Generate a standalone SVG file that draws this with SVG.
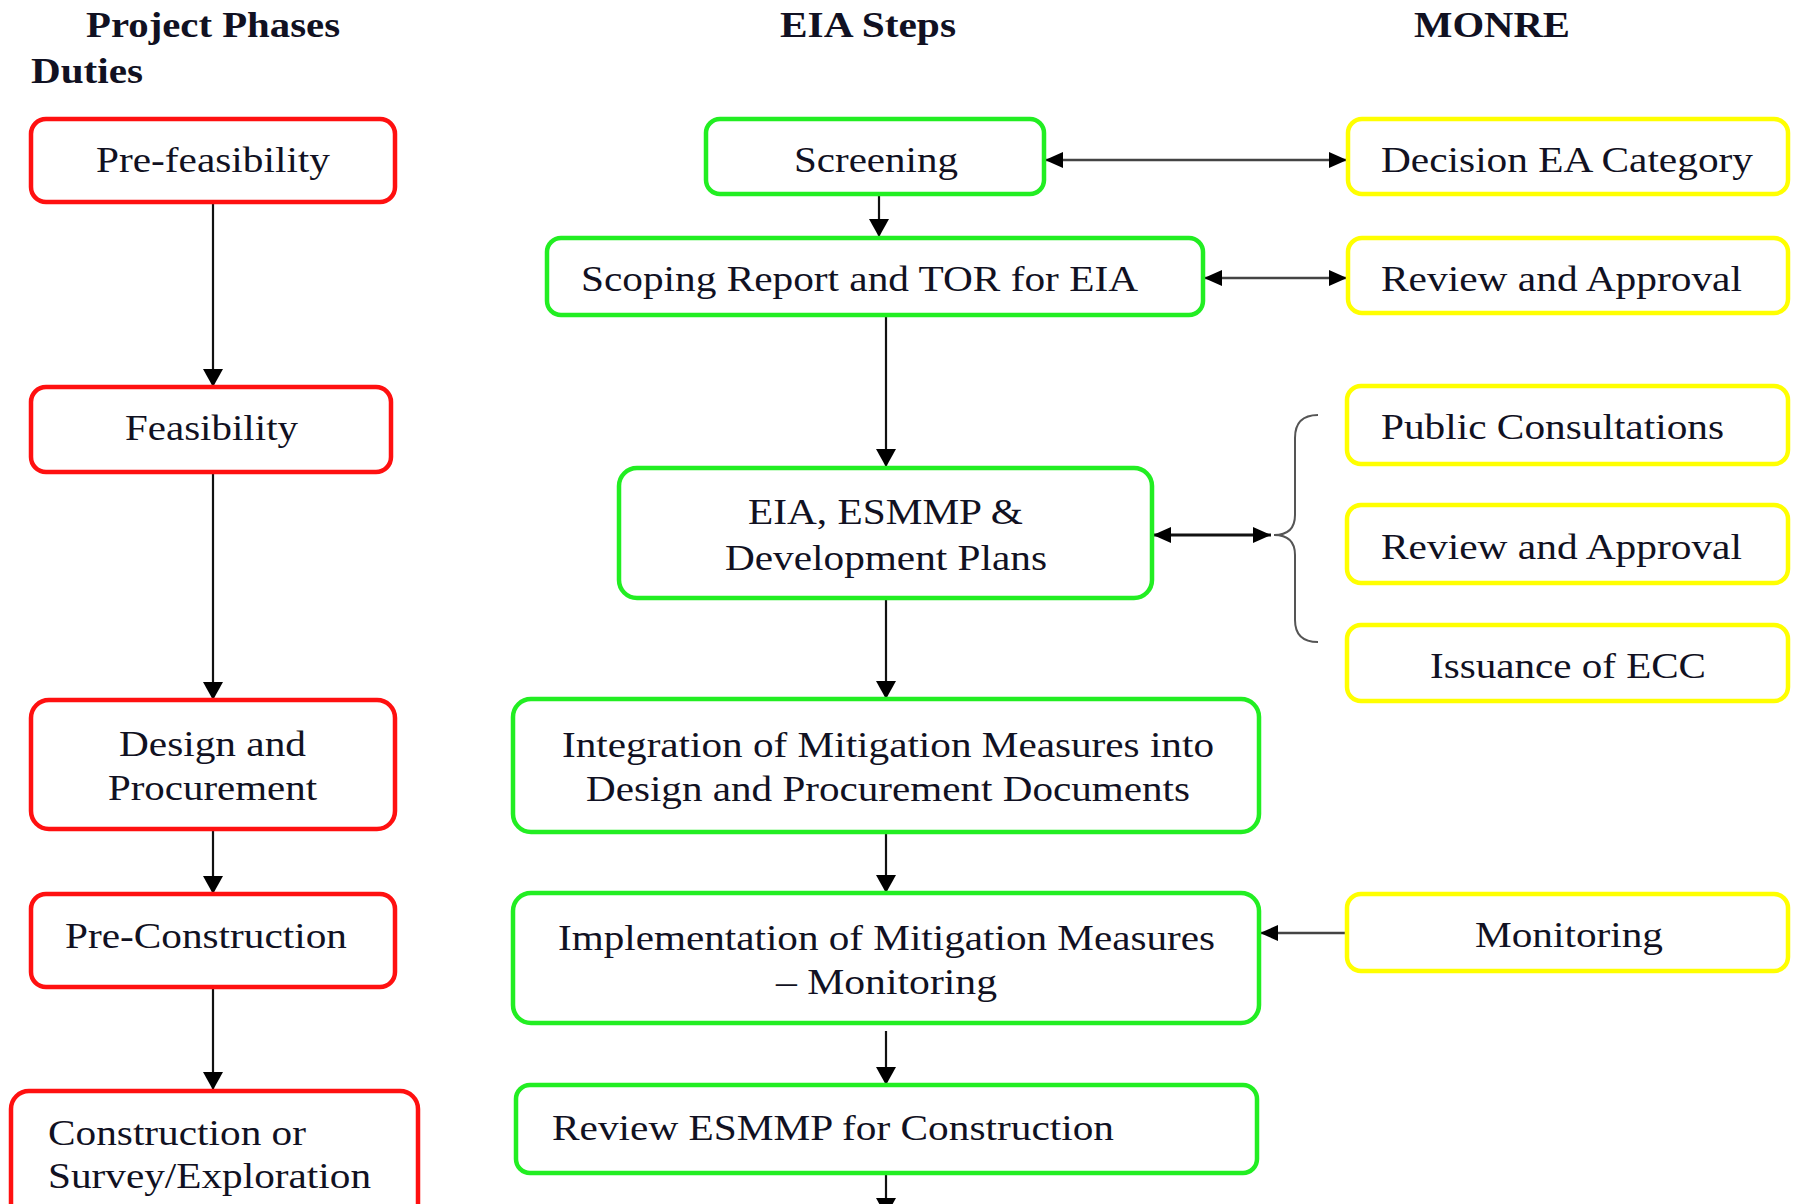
<svg xmlns="http://www.w3.org/2000/svg" width="1797" height="1204" viewBox="0 0 1797 1204">
<style>
.bg{fill:#ffffff}
.red{fill:#ffffff;stroke:#ff1010;stroke-width:4.5}
.grn{fill:#ffffff;stroke:#22ee22;stroke-width:4.5}
.yel{fill:#ffffff;stroke:#ffff00;stroke-width:4.5}
.t{font-family:"Liberation Serif","Times New Roman",serif;font-size:36px;fill:#111122}
.h{font-family:"Liberation Serif","Times New Roman",serif;font-size:36px;font-weight:bold;fill:#111122}
.ln{fill:none;stroke:#111;stroke-width:2.2}
.lg{fill:none;stroke:#444;stroke-width:2.6}
.lb{fill:none;stroke:#111;stroke-width:3.2}
.brace{fill:none;stroke:#555;stroke-width:2}
</style>
<defs>
<marker id="ah" viewBox="0 0 18 20" refX="18" refY="10" markerWidth="18" markerHeight="20" markerUnits="userSpaceOnUse" orient="auto-start-reverse">
<path d="M0,0 L18,10 L0,20 z" fill="#000"/>
</marker>
<marker id="ahs" viewBox="0 0 18 16" refX="18" refY="8" markerWidth="18" markerHeight="16" markerUnits="userSpaceOnUse" orient="auto-start-reverse">
<path d="M0,0 L18,8 L0,16 z" fill="#000"/>
</marker>
</defs>
<rect class="bg" x="0" y="0" width="1797" height="1204"/>

<g id="headers">
<text class="h" x="86" y="37" textLength="254" lengthAdjust="spacingAndGlyphs">Project Phases</text>
<text class="h" x="31" y="83" textLength="112" lengthAdjust="spacingAndGlyphs">Duties</text>
<text class="h" x="780" y="37" textLength="176" lengthAdjust="spacingAndGlyphs">EIA Steps</text>
<text class="h" x="1414" y="37" textLength="156" lengthAdjust="spacingAndGlyphs">MONRE</text>
</g>

<g id="connectors">
<line class="ln" x1="213" y1="202" x2="213" y2="387" marker-end="url(#ah)"/>
<line class="ln" x1="213" y1="472" x2="213" y2="700" marker-end="url(#ah)"/>
<line class="ln" x1="213" y1="829" x2="213" y2="894" marker-end="url(#ah)"/>
<line class="ln" x1="213" y1="987" x2="213" y2="1090" marker-end="url(#ah)"/>
<line class="ln" x1="879" y1="194" x2="879" y2="237" marker-end="url(#ah)"/>
<line class="ln" x1="886" y1="315" x2="886" y2="467" marker-end="url(#ah)"/>
<line class="ln" x1="886" y1="598" x2="886" y2="699" marker-end="url(#ah)"/>
<line class="ln" x1="886" y1="832" x2="886" y2="893" marker-end="url(#ah)"/>
<line class="ln" x1="886" y1="1031" x2="886" y2="1085" marker-end="url(#ah)"/>
<line class="ln" x1="886" y1="1173" x2="886" y2="1216" marker-end="url(#ah)"/>
<line class="lg" x1="1045" y1="160" x2="1347" y2="160" marker-start="url(#ahs)" marker-end="url(#ahs)"/>
<line class="lg" x1="1204" y1="278" x2="1347" y2="278" marker-start="url(#ahs)" marker-end="url(#ahs)"/>
<line class="lb" x1="1153" y1="535" x2="1271" y2="535" marker-start="url(#ahs)" marker-end="url(#ahs)"/>
<line class="lg" x1="1347" y1="933" x2="1260" y2="933" marker-end="url(#ahs)"/>
<path class="brace" d="M1318,415 Q1295,415 1295,438 L1295,515 Q1295,535 1274,535 Q1295,535 1295,555 L1295,620 Q1295,642 1318,642"/>
</g>

<g id="prefeasibility">
<rect class="red" x="31" y="119" width="364" height="83" rx="15"/>
<text class="t" x="96" y="172" textLength="234" lengthAdjust="spacingAndGlyphs">Pre-feasibility</text>
</g>
<g id="feasibility">
<rect class="red" x="31" y="387" width="360" height="85" rx="15"/>
<text class="t" x="125" y="440" textLength="173" lengthAdjust="spacingAndGlyphs">Feasibility</text>
</g>
<g id="design">
<rect class="red" x="31" y="700" width="364" height="129" rx="18"/>
<text class="t" x="119" y="756" textLength="187" lengthAdjust="spacingAndGlyphs">Design and</text>
<text class="t" x="108" y="800" textLength="209" lengthAdjust="spacingAndGlyphs">Procurement</text>
</g>
<g id="preconstruction">
<rect class="red" x="31" y="894" width="364" height="93" rx="15"/>
<text class="t" x="65" y="948" textLength="282" lengthAdjust="spacingAndGlyphs">Pre-Construction</text>
</g>
<g id="construction">
<rect class="red" x="11" y="1091" width="407" height="150" rx="18"/>
<text class="t" x="48" y="1145" textLength="258" lengthAdjust="spacingAndGlyphs">Construction or</text>
<text class="t" x="48" y="1188" textLength="323" lengthAdjust="spacingAndGlyphs">Survey/Exploration</text>
</g>

<g id="screening">
<rect class="grn" x="706" y="119" width="338" height="75" rx="14"/>
<text class="t" x="794" y="172" textLength="164" lengthAdjust="spacingAndGlyphs">Screening</text>
</g>
<g id="scoping">
<rect class="grn" x="547" y="238" width="656" height="77" rx="14"/>
<text class="t" x="581" y="291" textLength="557" lengthAdjust="spacingAndGlyphs">Scoping Report and TOR for EIA</text>
</g>
<g id="eia">
<rect class="grn" x="619" y="468" width="533" height="130" rx="18"/>
<text class="t" x="748" y="524" textLength="275" lengthAdjust="spacingAndGlyphs">EIA, ESMMP &amp;</text>
<text class="t" x="725" y="570" textLength="322" lengthAdjust="spacingAndGlyphs">Development Plans</text>
</g>
<g id="integration">
<rect class="grn" x="513" y="699" width="746" height="133" rx="18"/>
<text class="t" x="562" y="757" textLength="652" lengthAdjust="spacingAndGlyphs">Integration of Mitigation Measures into</text>
<text class="t" x="586" y="801" textLength="604" lengthAdjust="spacingAndGlyphs">Design and Procurement Documents</text>
</g>
<g id="implementation">
<rect class="grn" x="513" y="893" width="746" height="130" rx="18"/>
<text class="t" x="558" y="950" textLength="657" lengthAdjust="spacingAndGlyphs">Implementation of Mitigation Measures</text>
<text class="t" x="776" y="994" textLength="221" lengthAdjust="spacingAndGlyphs">– Monitoring</text>
</g>
<g id="review-esmmp">
<rect class="grn" x="516" y="1085" width="741" height="88" rx="14"/>
<text class="t" x="552" y="1140" textLength="562" lengthAdjust="spacingAndGlyphs">Review ESMMP for Construction</text>
</g>

<g id="decision">
<rect class="yel" x="1348" y="119" width="440" height="75" rx="14"/>
<text class="t" x="1381" y="172" textLength="372" lengthAdjust="spacingAndGlyphs">Decision EA Category</text>
</g>
<g id="review-approval-1">
<rect class="yel" x="1348" y="238" width="440" height="75" rx="14"/>
<text class="t" x="1381" y="291" textLength="361" lengthAdjust="spacingAndGlyphs">Review and Approval</text>
</g>
<g id="public-consultations">
<rect class="yel" x="1347" y="386" width="441" height="78" rx="14"/>
<text class="t" x="1381" y="439" textLength="343" lengthAdjust="spacingAndGlyphs">Public Consultations</text>
</g>
<g id="review-approval-2">
<rect class="yel" x="1347" y="505" width="441" height="78" rx="14"/>
<text class="t" x="1381" y="559" textLength="361" lengthAdjust="spacingAndGlyphs">Review and Approval</text>
</g>
<g id="issuance">
<rect class="yel" x="1347" y="625" width="441" height="76" rx="14"/>
<text class="t" x="1430" y="678" textLength="276" lengthAdjust="spacingAndGlyphs">Issuance of ECC</text>
</g>
<g id="monitoring">
<rect class="yel" x="1347" y="894" width="441" height="77" rx="14"/>
<text class="t" x="1475" y="947" textLength="188" lengthAdjust="spacingAndGlyphs">Monitoring</text>
</g>
</svg>
